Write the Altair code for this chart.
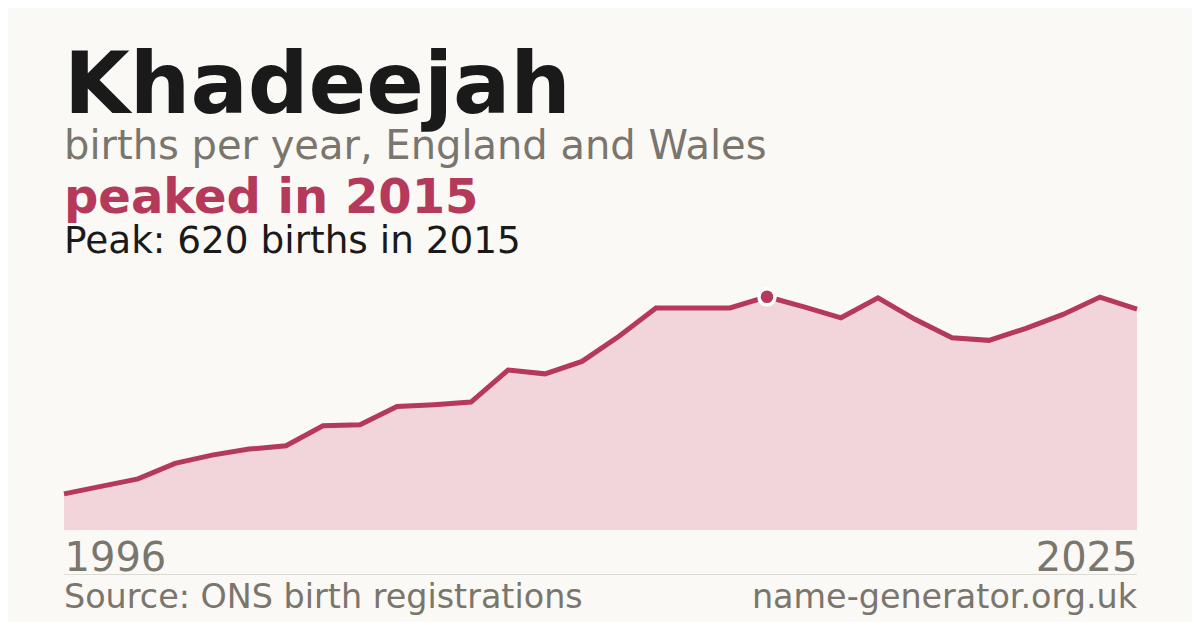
import altair as alt
import pandas as pd

# ---- data ----
years = [1996, 1997, 1998, 1999, 2000, 2001, 2002, 2003, 2004, 2005,
         2006, 2007, 2008, 2009, 2010, 2011, 2012, 2013, 2014, 2015,
         2016, 2017, 2018, 2019, 2020, 2021, 2022, 2023, 2024, 2025]
births = [96, 116, 136, 177, 199, 215, 224, 277, 280, 328,
          333, 340, 425, 415, 448, 515, 590, 590, 590, 620,
          593, 564, 617, 560, 511, 504, 536, 573, 619, 587]
peak_year = [2015]
peak_births = [620]
tick_years = [1996, 2025]

title_text = "Khadeejah"
subtitle_text = "births per year, England and Wales"
headline_text = "peaked in 2015"
peak_text = "Peak: 620 births in 2015"
source_text = "Source: ONS birth registrations"
site_text = "name-generator.org.uk"

# ---- style ----
BG = "#faf9f5"
FILL = "#f2d5db"
LINE = "#b5395a"
GRAY = "#7a756d"
DARK = "#1a1a1a"
FONT = "DejaVu Sans"
W, H = 1073, 260

df = pd.DataFrame({"year": years, "births": births})
peak_df = pd.DataFrame({"year": peak_year, "births": peak_births})

x = alt.X("year:Q",
          scale=alt.Scale(domain=[years[0], years[-1]], nice=False, zero=False),
          axis=alt.Axis(values=tick_years, format="d", labelFlush=True,
                        domain=False, ticks=False, grid=False, title=None,
                        labelFontSize=40, labelColor=GRAY, labelFont=FONT,
                        labelPadding=8))
y = alt.Y("births:Q", scale=alt.Scale(domain=[0, 691], nice=False), axis=None)

area = alt.Chart(df).mark_area(color=FILL).encode(x=x, y=y)
line = alt.Chart(df).mark_line(color=LINE, strokeWidth=5).encode(x=x, y=y)
dot = alt.Chart(peak_df).mark_point(filled=True, shape="circle", size=260,
                                    fill=LINE, stroke="white", strokeWidth=3.5,
                                    opacity=1).encode(x=x, y=y)


def txt(s, ypx, size, color, bold=False, align="left", xpx=0):
    d = pd.DataFrame({"t": [s]})
    return alt.Chart(d).mark_text(
        align=align, baseline="alphabetic", fontSize=size, font=FONT,
        fontWeight="bold" if bold else "normal", color=color
    ).encode(x=alt.value(xpx), y=alt.value(ypx), text="t:N")


rule = alt.Chart(pd.DataFrame({"a": [0]})).mark_rule(
    color="#dcdad4", strokeWidth=1).encode(
    x=alt.value(0), x2=alt.value(W), y=alt.value(304.5))

layers = [
    area, line, dot, rule,
    txt(title_text, -156.7, 85, DARK, bold=True),
    txt(subtitle_text, -110.7, 40, GRAY),
    txt(headline_text, -56.7, 48, LINE, bold=True),
    txt(peak_text, -16.7, 37.4, DARK),
    txt(source_text, 338.3, 33.4, GRAY),
    txt(site_text, 338.3, 33.4, GRAY, align="right", xpx=W),
]

chart = alt.layer(*layers).properties(
    width=W, height=H,
    autosize=alt.AutoSizeParams(type="none"),
    padding={"left": 56, "top": 262, "right": 55, "bottom": 92},
    background=BG,
).configure_view(strokeWidth=0)

chart.save("out.html", embed_options={"renderer": "svg", "actions": False})
